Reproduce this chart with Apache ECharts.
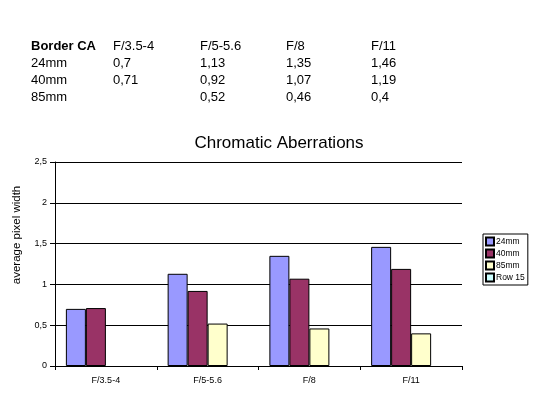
<!DOCTYPE html>
<html><head><meta charset="utf-8">
<script src="https://cdn.jsdelivr.net/npm/echarts@6/dist/echarts.min.js"></script>
<style>html,body{margin:0;padding:0;background:#fff}#c{width:541px;height:394px}</style>
</head><body><div id="c"></div>
<script>
const categories = ['F/3.5-4', 'F/5-5.6', 'F/8', 'F/11'];
const seriesNames = ['24mm', '40mm', '85mm', 'Row 15'];
const s24 = [0.7, 1.13, 1.35, 1.46];
const s40 = [0.71, 0.92, 1.07, 1.19];
const s85 = [null, 0.52, 0.46, 0.4];
const sRow15 = [null, null, null, null];
const yTicks = [0, 0.5, 1, 1.5, 2, 2.5];
const tableHeader = 'Border CA';

const colors = ['#9999FF', '#993366', '#FFFFCC', '#CCFFFF'];
const allData = [s24, s40, s85, sRow15];
const fmt = v => (v === null || v === undefined) ? '' : String(v).replace('.', ',');

const font = 'Liberation Sans, Arial, sans-serif';
const colX = [31, 113, 200, 286, 371];
const rowY = [46, 63, 80, 97];
const tableEls = [];
const headerRow = [tableHeader].concat(categories);
headerRow.forEach((t, i) => tableEls.push({type:'text', x: colX[i], y: rowY[0],
  style:{text:t, font:(i===0?'bold ':'')+'13px '+font, fill:'#000', textVerticalAlign:'middle', verticalAlign:'middle'}}));
for (let r = 0; r < 3; r++) {
  const row = [seriesNames[r]].concat(allData[r].map(fmt));
  row.forEach((t, i) => tableEls.push({type:'text', x: colX[i], y: rowY[r+1],
    style:{text:t, font:'13px '+font, fill:'#000', textVerticalAlign:'middle', verticalAlign:'middle'}}));
}
tableEls.push({type:'text', x:17, y:235, rotation:Math.PI/2,
  style:{text:'average pixel width', font:'11.5px '+font, fill:'#000', align:'center', verticalAlign:'middle'}});

const chart = echarts.init(document.getElementById('c'));
chart.setOption({
  animation: false,
  title: {text:'Chromatic Aberrations', left: 274, top: 130, textAlign:'center',
    textStyle:{fontFamily:font, fontSize:17, fontWeight:'normal', color:'#000'}},
  grid: {left:55, top:162, width:407, height:204},
  legend: {orient:'vertical', left:483, top:234, data: seriesNames,
    borderColor:'#000', borderWidth:1, padding:[2,3,2,2], itemWidth:8, itemHeight:8, itemGap:1,
    icon:'rect', textStyle:{fontFamily:font, fontSize:8.5, lineHeight:11, color:'#000', padding:[0,0,0,-3]}},
  xAxis: {type:'category', data:categories,
    axisLine:{lineStyle:{color:'#000'}}, axisTick:{show:true, alignWithLabel:false, length:4, lineStyle:{color:'#000'}},
    axisLabel:{fontFamily:font, fontSize:9, color:'#000', margin:10}},
  yAxis: {type:'value', min:0, max:2.5, interval:0.5,
    axisLine:{show:true, lineStyle:{color:'#000'}}, axisTick:{show:true, length:5, lineStyle:{color:'#000'}},
    splitLine:{lineStyle:{color:'#000'}},
    axisLabel:{fontFamily:font, fontSize:9, color:'#000', margin:8, formatter: v => fmt(v)}},
  series: seriesNames.map((n, i) => ({name:n, type:'bar', data: allData[i], barWidth:20, barGap:'0%',
    itemStyle:{color:colors[i], borderColor:'#000', borderWidth:1}})),
  graphic: tableEls
});
</script></body></html>
